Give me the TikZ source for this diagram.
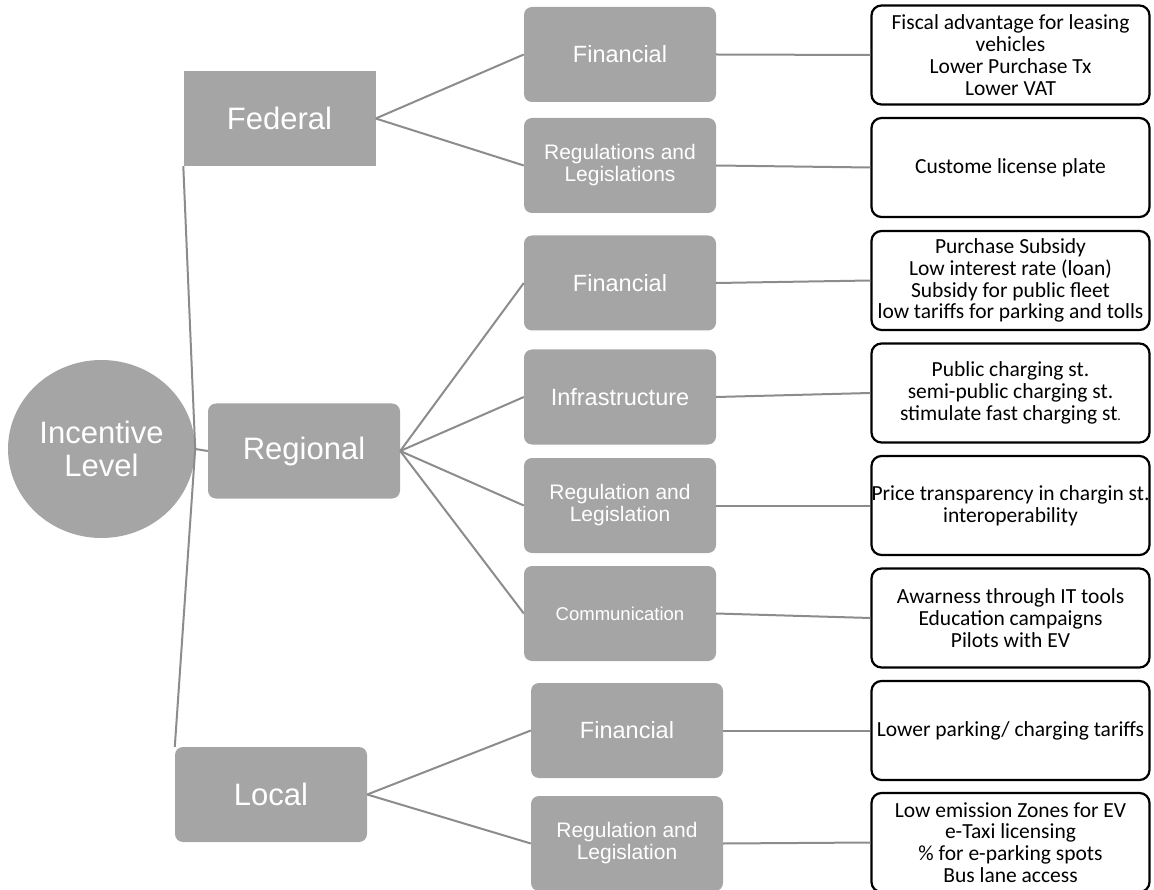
\documentclass[tikz,border=0pt]{standalone}
\usepackage{fontspec}
\usetikzlibrary{shapes.geometric}
\setmainfont{Liberation Sans}
\newfontfamily\calfont{Carlito}
\definecolor{lvlgray}{RGB}{165,165,165}
\definecolor{linkgray}{RGB}{140,140,140}
\tikzset{
  lvl/.style={fill=lvlgray,text=white,minimum width=192pt,minimum height=95pt,inner sep=2pt,
    align=center,rounded corners=8pt,font={\fontsize{31}{33}\selectfont}},
  sublvl/.style={lvl,font={\fontsize{23.5}{24}\selectfont}},
  subsmall/.style={lvl,font={\fontsize{21}{22}\selectfont}},
  itembox/.style={draw=black,line width=2.2pt,rounded corners=10pt,minimum width=278pt,
    minimum height=99pt,inner xsep=0pt,inner ysep=2pt,align=center,
    font={\calfont\fontsize{21.5}{21.8}\selectfont}},
  link/.style={draw=linkgray,line width=2pt}
}

\begin{document}
\begin{tikzpicture}[x=1pt,y=-1pt]
    \useasboundingbox (0,0) rectangle (1154,890);
    % root and levels
    \node[ellipse,fill=lvlgray,text=white,minimum width=187pt,minimum height=178pt,inner sep=0pt,
      align=center,font={\fontsize{31}{33}\selectfont}] (root) at (101.5,449) {Incentive\\Level};
    \node[lvl,sharp corners] (fed) at (279.5,118.5) {Federal};
    \node[lvl] (reg) at (304,451) {Regional};
    \node[lvl] (loc) at (271,794.5) {Local};
    % instruments
    \node[sublvl] (fedfin) at (620,54.5) {Financial};
    \node[subsmall] (fedleg) at (620,165.5) {Regulations and\\Legislations};
    \node[sublvl] (regfin) at (620,283) {Financial};
    \node[sublvl] (reginf) at (620,397) {Infrastructure};
    \node[subsmall] (regleg) at (620,505.5) {Regulation and\\Legislation};
    \node[lvl,font={\fontsize{18.5}{20}\selectfont}] (regcom) at (620,613.5) {Communication};
    \node[sublvl] (locfin) at (627,730.5) {Financial};
    \node[subsmall] (locleg) at (627,843.5) {Regulation and\\Legislation};
    % measures
    \node[itembox] (m1) at (1010.5,55) {Fiscal advantage for leasing\\vehicles\\Lower Purchase Tx\\Lower VAT};
    \node[itembox] (m2) at (1010.5,167.5) {Custome license plate};
    \node[itembox] (m3) at (1010.5,280.5) {Purchase Subsidy\\Low interest rate (loan)\\Subsidy for public fleet\\low tariffs for parking and tolls};
    \node[itembox] (m4) at (1010.5,393) {Public charging st.\\semi-public charging st.\\stimulate fast charging st{\fontsize{14}{14}\selectfont.}};
    \node[itembox] (m5) at (1010.5,505.5) {Price transparency in chargin st.\\interoperability};
    \node[itembox] (m6) at (1010.5,618) {Awarness through IT tools\\Education campaigns\\Pilots with EV};
    \node[itembox] (m7) at (1010.5,730.5) {Lower parking/ charging tariffs};
    \node[itembox] (m8) at (1010.5,842.5) {Low emission Zones for EV\\e-Taxi licensing\\\% for e-parking spots\\Bus lane access};
    % connectors
    \draw[link] (root.east) -- (fed.south west);
    \draw[link] (root.east) -- (reg.west);
    \draw[link] (root.east) -- (loc.north west);
    \foreach \a/\b in {fed/fedfin,fed/fedleg,reg/regfin,reg/reginf,reg/regleg,reg/regcom,loc/locfin,loc/locleg}
      \draw[link] (\a.east) -- (\b.west);
    \foreach \a/\b in {fedfin/m1,fedleg/m2,regfin/m3,reginf/m4,regleg/m5,regcom/m6,locfin/m7,locleg/m8}
      \draw[link] (\a.east) -- (\b.west);
\end{tikzpicture}
\end{document}
